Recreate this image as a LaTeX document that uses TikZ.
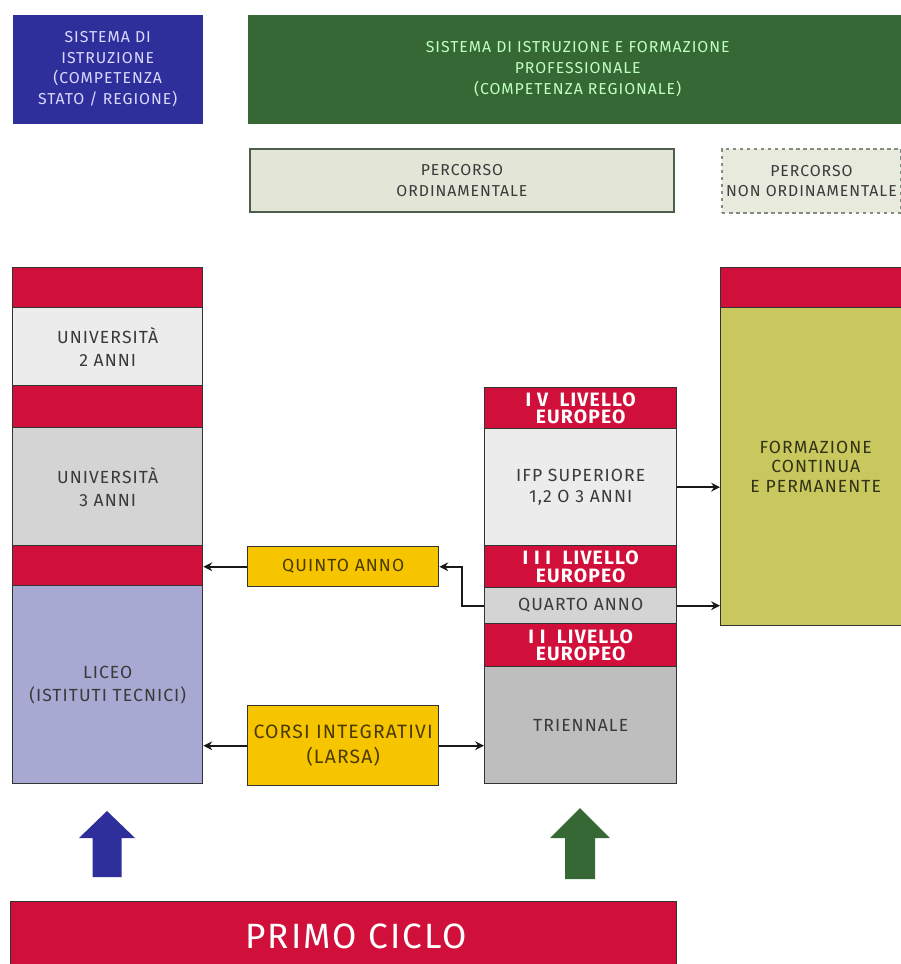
\documentclass[tikz,border=0pt]{standalone}
\usepackage{fontspec}
\setmainfont[LetterSpace=6]{Fira Sans}
\usetikzlibrary{arrows.meta}

\definecolor{istrblue}{HTML}{2F2F9C}
\definecolor{ifpgreen}{HTML}{366835}
\definecolor{eured}{HTML}{D0103A}
\definecolor{greylight}{HTML}{ECECEC}
\definecolor{greymid}{HTML}{D4D4D4}
\definecolor{greydark}{HTML}{BEBEBE}
\definecolor{lavender}{HTML}{A8A9D2}
\definecolor{corsoyellow}{HTML}{F6C500}
\definecolor{olive}{HTML}{C9C85E}
\definecolor{percfill}{HTML}{E3E5D6}
\definecolor{percline}{HTML}{4E5E4C}
\definecolor{txtgray}{HTML}{3A3A3A}

\begin{document}
\begin{tikzpicture}[
  cell/.style={draw=black!80, line width=0.8pt, anchor=north west, inner sep=0pt,
    align=center, text=txtgray, font=\fontsize{10}{13}\selectfont},
  redbar/.style={cell, fill=eured, text=white, font=\bfseries\fontsize{11}{10}\selectfont},
  head/.style={cell, draw=none, font=\fontsize{9}{11.8}\selectfont},
  link/.style={line width=1.1pt, black!90, -{Stealth[length=5pt,width=5pt]}}
]
  \useasboundingbox (0,0) rectangle (18.02,-19.28);

  % intestazioni
  \node[head, fill=istrblue, text=blue!15, minimum width=3.8cm, minimum height=2.18cm] (istr) at (0.24,-0.28)
    {SISTEMA DI\\ISTRUZIONE\\(COMPETENZA\\STATO / REGIONE)};
  \node[head, fill=ifpgreen, text=green!25!white, minimum width=13.2cm, minimum height=2.18cm] (iefp) at (4.94,-0.28)
    {SISTEMA DI ISTRUZIONE E FORMAZIONE\\PROFESSIONALE\\(COMPETENZA REGIONALE)};
  \node[head, draw=percline, line width=1.1pt, fill=percfill, minimum width=8.48cm, minimum height=1.26cm] (ordin) at (4.98,-2.96)
    {PERCORSO\\ORDINAMENTALE};
  \node[head, draw=percline!70, line width=1.1pt, dash pattern=on 2pt off 2pt, fill=percfill!80!white, minimum width=3.58cm, minimum height=1.28cm] (nonordin) at (14.42,-2.96)
    {PERCORSO\\NON ORDINAMENTALE};

  % sistema di istruzione
  \node[redbar, minimum width=3.8cm, minimum height=0.8cm] (redA) at (0.24,-5.34) {};
  \node[cell, fill=greylight, minimum width=3.8cm, minimum height=1.56cm] (uni2) at (0.24,-6.14) {UNIVERSITÀ\\2 ANNI};
  \node[redbar, minimum width=3.8cm, minimum height=0.84cm] (redB) at (0.24,-7.70) {};
  \node[cell, fill=greymid, minimum width=3.8cm, minimum height=2.36cm] (uni3) at (0.24,-8.54) {UNIVERSITÀ\\3 ANNI};
  \node[redbar, minimum width=3.8cm, minimum height=0.8cm] (redC) at (0.24,-10.90) {};
  \node[cell, fill=lavender, minimum width=3.8cm, minimum height=3.96cm] (liceo) at (0.24,-11.70) {LICEO\\(ISTITUTI TECNICI)};

  % istruzione e formazione professionale
  \node[redbar, minimum width=3.84cm, minimum height=0.82cm] (livIV) at (9.68,-7.74) {I V\ \ LIVELLO\\EUROPEO};
  \node[cell, fill=greylight, minimum width=3.84cm, minimum height=2.34cm,
    font=\fontsize{10}{11.5}\selectfont] (ifp) at (9.68,-8.56) {IFP SUPERIORE\\1,2 O 3 ANNI};
  \node[redbar, minimum width=3.84cm, minimum height=0.84cm] (livIII) at (9.68,-10.90) {I I I\ \ LIVELLO\\EUROPEO};
  \node[cell, fill=greymid, minimum width=3.84cm, minimum height=0.72cm] (quarto) at (9.68,-11.74) {QUARTO ANNO};
  \node[redbar, minimum width=3.84cm, minimum height=0.86cm] (livII) at (9.68,-12.46) {I I\ \ LIVELLO\\EUROPEO};
  \node[cell, fill=greydark, minimum width=3.84cm, minimum height=2.34cm] (trien) at (9.68,-13.32) {TRIENNALE};

  % percorso non ordinamentale
  \node[redbar, minimum width=3.8cm, minimum height=0.8cm] (redF) at (14.40,-5.34) {};
  \node[cell, fill=olive, text=black!75!olive, minimum width=3.8cm, minimum height=6.36cm,
    font=\fontsize{10}{11.3}\selectfont] (formaz) at (14.40,-6.14) {FORMAZIONE\\CONTINUA\\E PERMANENTE};

  % passaggi
  \node[cell, fill=corsoyellow, text=black!70!corsoyellow, minimum width=3.82cm, minimum height=0.8cm] (quinto) at (4.94,-10.92) {QUINTO ANNO};
  \node[cell, fill=corsoyellow, text=black!70!corsoyellow, minimum width=3.82cm, minimum height=1.6cm,
    font=\fontsize{11}{14}\selectfont] (corsi) at (4.94,-14.10) {CORSI INTEGRATIVI\\(LARSA)};

  \node[cell, fill=eured, text=white, minimum width=13.32cm, minimum height=1.4cm,
    font=\fontsize{20}{22}\selectfont] (primo) at (0.2,-18.02) {\hspace*{0.5cm}PRIMO CICLO};

  \draw[link] (quinto.west) -- (quinto.west -| redC.east);
  \draw[link] (quarto.west) -- ++(-0.44,0) |- (quinto.east);
  \draw[link] (corsi.west) -- (corsi.west -| liceo.east);
  \draw[link] (corsi.east) -- (corsi.east -| trien.west);
  \draw[link] (ifp.east) -- (ifp.east -| formaz.west);
  \draw[link] (quarto.east) -- (quarto.east -| formaz.west);

  % frecce dal primo ciclo
  \fill[istrblue] (1.85,-17.54) -- (1.85,-16.76) -- (1.58,-16.76) -- (2.14,-16.22)
    -- (2.70,-16.76) -- (2.43,-16.76) -- (2.43,-17.54) -- cycle;
  \fill[ifpgreen] (11.30,-17.58) -- (11.30,-16.76) -- (11.00,-16.76) -- (11.60,-16.16)
    -- (12.20,-16.76) -- (11.90,-16.76) -- (11.90,-17.58) -- cycle;
\end{tikzpicture}
\end{document}
